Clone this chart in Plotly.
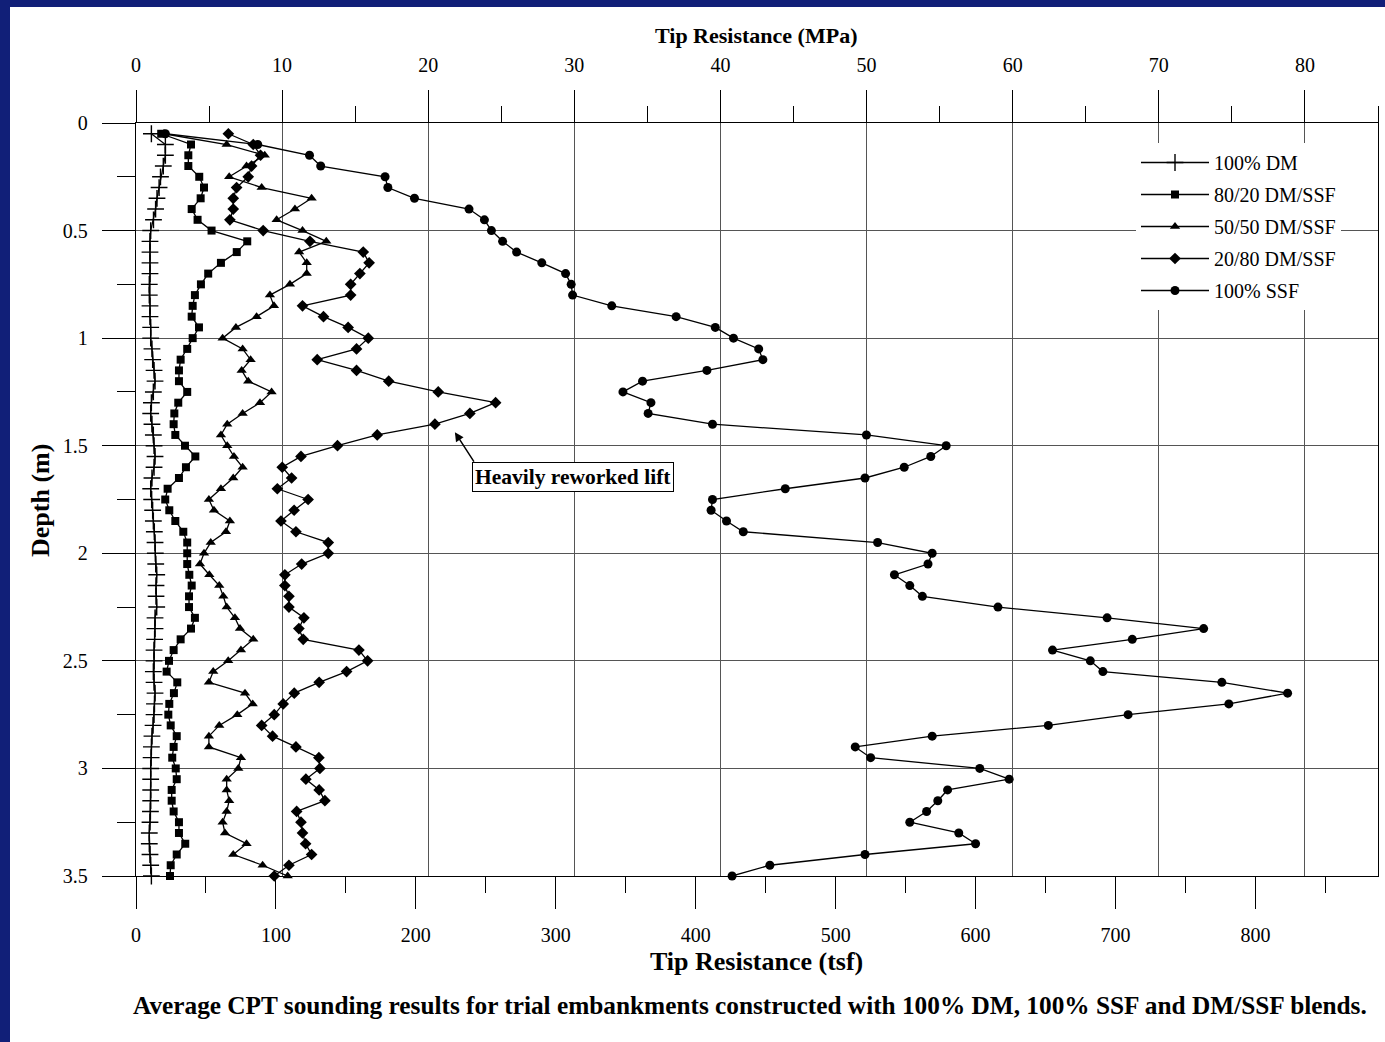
import plotly.graph_objects as go

# ---------------- data ----------------
depth = [0.05, 0.10, 0.15, 0.20, 0.25, 0.30, 0.35, 0.40, 0.45, 0.50,
         0.55, 0.60, 0.65, 0.70, 0.75, 0.80, 0.85, 0.90, 0.95, 1.00,
         1.05, 1.10, 1.15, 1.20, 1.25, 1.30, 1.35, 1.40, 1.45, 1.50,
         1.55, 1.60, 1.65, 1.70, 1.75, 1.80, 1.85, 1.90, 1.95, 2.00,
         2.05, 2.10, 2.15, 2.20, 2.25, 2.30, 2.35, 2.40, 2.45, 2.50,
         2.55, 2.60, 2.65, 2.70, 2.75, 2.80, 2.85, 2.90, 2.95, 3.00,
         3.05, 3.10, 3.15, 3.20, 3.25, 3.30, 3.35, 3.40, 3.45, 3.50]

dm_100 = [11, 21, 21, 19.5, 17.5, 16.5, 15, 14, 12.5, 10.5,
          10, 10, 10, 10, 9.5, 9.5, 10, 10, 10.5, 10.5,
          11.4, 11.9, 12.9, 13.6, 12.4, 11, 10.5, 11.4, 12.4, 12.9,
          13.6, 12.9, 11.4, 10.5, 11.2, 11.9, 12.4, 13.1, 13.6, 13.8,
          14.1, 14.8, 14.3, 14.3, 14.8, 13.6, 13.6, 13.3, 12.9, 12.9,
          12.4, 12.9, 13.6, 13.2, 12.9, 12.2, 11.4, 11, 10.8, 10.5,
          10.5, 10.5, 10.5, 10.3, 10, 9.5, 9.5, 10, 10.5, 11]

dm_80_20 = [18, 39.3, 37.4, 37.4, 45.2, 48.6, 46.2, 39.8, 44, 54,
            79.5, 72, 60.7, 51.6, 46.4, 42.1, 40.5, 39.8, 45, 40.5,
            36.6, 31.9, 30.7, 30.7, 36.6, 30.2, 27.4, 26.9, 28.1, 35,
            42.4, 35.7, 30.7, 22.6, 20.9, 23.8, 28.1, 33.8, 36.6, 36.6,
            36.6, 38.1, 39.8, 37.9, 37.9, 42.1, 39.3, 31.9, 26.9, 23.6,
            21.9, 29.5, 27.1, 23.8, 23.1, 24.8, 29.1, 26.9, 25.9, 28.4,
            29.1, 25.5, 25.5, 26.9, 30.7, 30.7, 35.2, 29.1, 24.8, 24.3]

dm_50_50 = [20, 64.8, 92, 79, 66.6, 89.8, 125.5, 113.6, 100.5, 119,
            136, 116.6, 122, 122, 110, 95.7, 98.6, 86.2, 71.4, 61.9,
            76.2, 81.9, 75.5, 80.2, 96.9, 88.6, 76.2, 65.2, 60.7, 65.2,
            70, 76.2, 69.5, 60.7, 52.1, 55.7, 67.1, 64.3, 53.4, 48.6,
            45.7, 52.4, 59.5, 62.4, 64.8, 70.7, 74.3, 83.8, 75, 65.9,
            55.2, 52.1, 77.9, 83.4, 72.4, 59.5, 52.1, 52.1, 75, 73.1,
            64.8, 64.8, 66.6, 64.8, 61.9, 63.6, 79, 69.5, 90.5, 108.4]

dm_20_80 = [66, 83.8, 89, 82.6, 80.2, 71.9, 69.5, 69.5, 67.1, 90.9,
            124.3, 162.4, 166.6, 160, 153.4, 153.4, 119, 134, 151.6, 166,
            157.6, 129.5, 157.6, 180.6, 216, 257, 238.6, 213.6, 172.4, 144,
            117.9, 104.5, 111.2, 101, 123, 113, 103.6, 114.3, 137.4, 137.4,
            118.4, 106.4, 106.4, 109.3, 109.3, 120, 116.4, 119.5, 159.3, 165.5,
            150.5, 130.9, 113.1, 105.2, 98.8, 89.8, 97.6, 114.3, 130.7, 131.4,
            121.4, 130.9, 135, 114.8, 117.9, 119, 121.2, 125.5, 109.3, 98.8]

ssf_100 = [21, 87, 124, 132, 178, 180, 199, 238, 249, 254,
           262, 272, 290, 307, 311, 312, 340, 386, 414, 427,
           445, 448, 408, 362, 348, 368, 366, 412, 522, 579,
           568, 549, 521, 464, 412, 411, 422, 434, 530, 569,
           566, 542, 553, 562, 616, 694, 763, 712, 655, 682,
           691, 776, 823, 781, 709, 652, 569, 514, 525, 603,
           624, 580, 573, 565, 553, 588, 600, 521, 453, 426]

series_names = ["100% DM", "80/20 DM/SSF", "50/50 DM/SSF", "20/80 DM/SSF", "100% SSF"]

tsf_ticks = [0, 100, 200, 300, 400, 500, 600, 700, 800]
mpa_ticks = [0, 10, 20, 30, 40, 50, 60, 70, 80]
depth_ticks = [0, 0.5, 1, 1.5, 2, 2.5, 3, 3.5]

# ---------------- layout constants (pixels) ----------------
W, H = 1385, 1042
L, R, T, B = 136, 1378, 123, 876
PW, PH = R - L, B - T
TSF_MAX = 887.6
MPA_MAX = 85.0
NAVY = "#111f78"
SERIF = "Liberation Serif"

def px(xp):
    return (xp - L) / PW

def py(yp):
    return (B - yp) / PH

fig = go.Figure()

markers = [
    dict(symbol="cross-thin", size=12, color="black", line=dict(width=1.4, color="black")),
    dict(symbol="square", size=8, color="black"),
    dict(symbol="triangle-up", size=9, color="black"),
    dict(symbol="diamond", size=9, color="black"),
    dict(symbol="circle", size=9, color="black"),
]
values = [dm_100, dm_80_20, dm_50_50, dm_20_80, ssf_100]

for name, vals, mk in zip(series_names, values, markers):
    fig.add_trace(go.Scatter(
        x=vals, y=depth, mode="lines+markers", name=name,
        legendgroup=name,
        line=dict(color="black", width=1.3),
        marker=mk, xaxis="x", yaxis="y", cliponaxis=False))

# invisible trace to anchor the MPa axis
fig.add_trace(go.Scatter(x=[0], y=[0], xaxis="x2", yaxis="y", mode="markers",
                         marker=dict(opacity=0), showlegend=False, hoverinfo="skip"))

tickfont = dict(family=SERIF, size=20, color="black")

def label(text, xp, yp, size, angle=0):
    return dict(text=text, xref="paper", yref="paper", x=px(xp), y=py(yp),
                xanchor="center", yanchor="middle", showarrow=False, textangle=angle,
                font=dict(family=SERIF, size=size, color="black"))

fig.update_layout(
    width=W, height=H,
    margin=dict(l=L, r=W - R, t=T, b=H - B),
    paper_bgcolor="white", plot_bgcolor="white",
    showlegend=True,
    xaxis=dict(
        range=[0, TSF_MAX], autorange=False,
        tickmode="array", tickvals=tsf_ticks, ticktext=[str(v) for v in tsf_ticks],
        ticks="outside", ticklen=32, tickwidth=1.3, tickcolor="black",
        minor=dict(dtick=50, tick0=0, ticks="outside", ticklen=16, tickwidth=1.3, tickcolor="black"),
        showline=True, linecolor="black", linewidth=1.3,
        showgrid=False, zeroline=False, tickfont=tickfont,
        ticklabelstandoff=9,
    ),
    xaxis2=dict(
        overlaying="x", side="top", anchor="y",
        range=[0, MPA_MAX], autorange=False,
        tickmode="array", tickvals=mpa_ticks, ticktext=[str(v) for v in mpa_ticks],
        ticks="outside", ticklen=32, tickwidth=1.3, tickcolor="black",
        minor=dict(dtick=5, tick0=0, ticks="outside", ticklen=16, tickwidth=1.3, tickcolor="black"),
        showline=True, linecolor="black", linewidth=1.3,
        showgrid=True, gridcolor="#555555", gridwidth=1,
        zeroline=False, tickfont=tickfont,
        ticklabelstandoff=10,
    ),
    yaxis=dict(
        range=[3.5, 0], autorange=False,
        tickmode="array", tickvals=depth_ticks, ticktext=["0", "0.5", "1", "1.5", "2", "2.5", "3", "3.5"],
        ticks="outside", ticklen=33, tickwidth=1.3, tickcolor="black",
        minor=dict(dtick=0.25, tick0=0, ticks="outside", ticklen=18, tickwidth=1.3, tickcolor="black"),
        showline=True, linecolor="black", linewidth=1.3, mirror=True,
        showgrid=True, gridcolor="#555555", gridwidth=1,
        zeroline=False, tickfont=tickfont,
        ticklabelstandoff=10,
    ),
    legend=dict(
        x=px(1136), y=py(143), xanchor="left", yanchor="top",
        bgcolor="white", borderwidth=0,
        font=dict(family=SERIF, size=20, color="black"),
        traceorder="grouped", tracegroupgap=3,
        itemwidth=68,
    ),
    shapes=[
        dict(type="rect", xref="paper", yref="paper",
             x0=px(0), x1=px(10), y0=py(H), y1=py(0),
             fillcolor=NAVY, line=dict(width=0), layer="above"),
        dict(type="rect", xref="paper", yref="paper",
             x0=px(0), x1=px(W), y0=py(7), y1=py(0),
             fillcolor=NAVY, line=dict(width=0), layer="above"),
    ],
    annotations=[
        label("<b>Tip Resistance (MPa)</b>", 756, 35, 22),
        label("<b>Tip Resistance (tsf)</b>", 756, 962, 26),
        label("<b>Depth (m)</b>", 40, 501, 26, angle=-90),
        label("<b>Average CPT sounding results for trial embankments constructed with 100% DM, 100% SSF and DM/SSF blends.</b>",
              750, 1005, 25.3),
        # arrow
        dict(text="", x=227.9, y=1.437, xref="x", yref="y",
             showarrow=True, arrowhead=2, arrowsize=1.2, arrowwidth=1.5, arrowcolor="black",
             ax=20, ay=31, axref="pixel", ayref="pixel"),
        # boxed label
        dict(text="<b>Heavily reworked lift</b>", x=312.1, y=1.646, xref="x", yref="y",
             xanchor="center", yanchor="middle",
             showarrow=False, bgcolor="white", bordercolor="black", borderwidth=1, borderpad=2,
             font=dict(family=SERIF, size=21.5, color="black")),
    ],
)

fig.write_html("out.html")
